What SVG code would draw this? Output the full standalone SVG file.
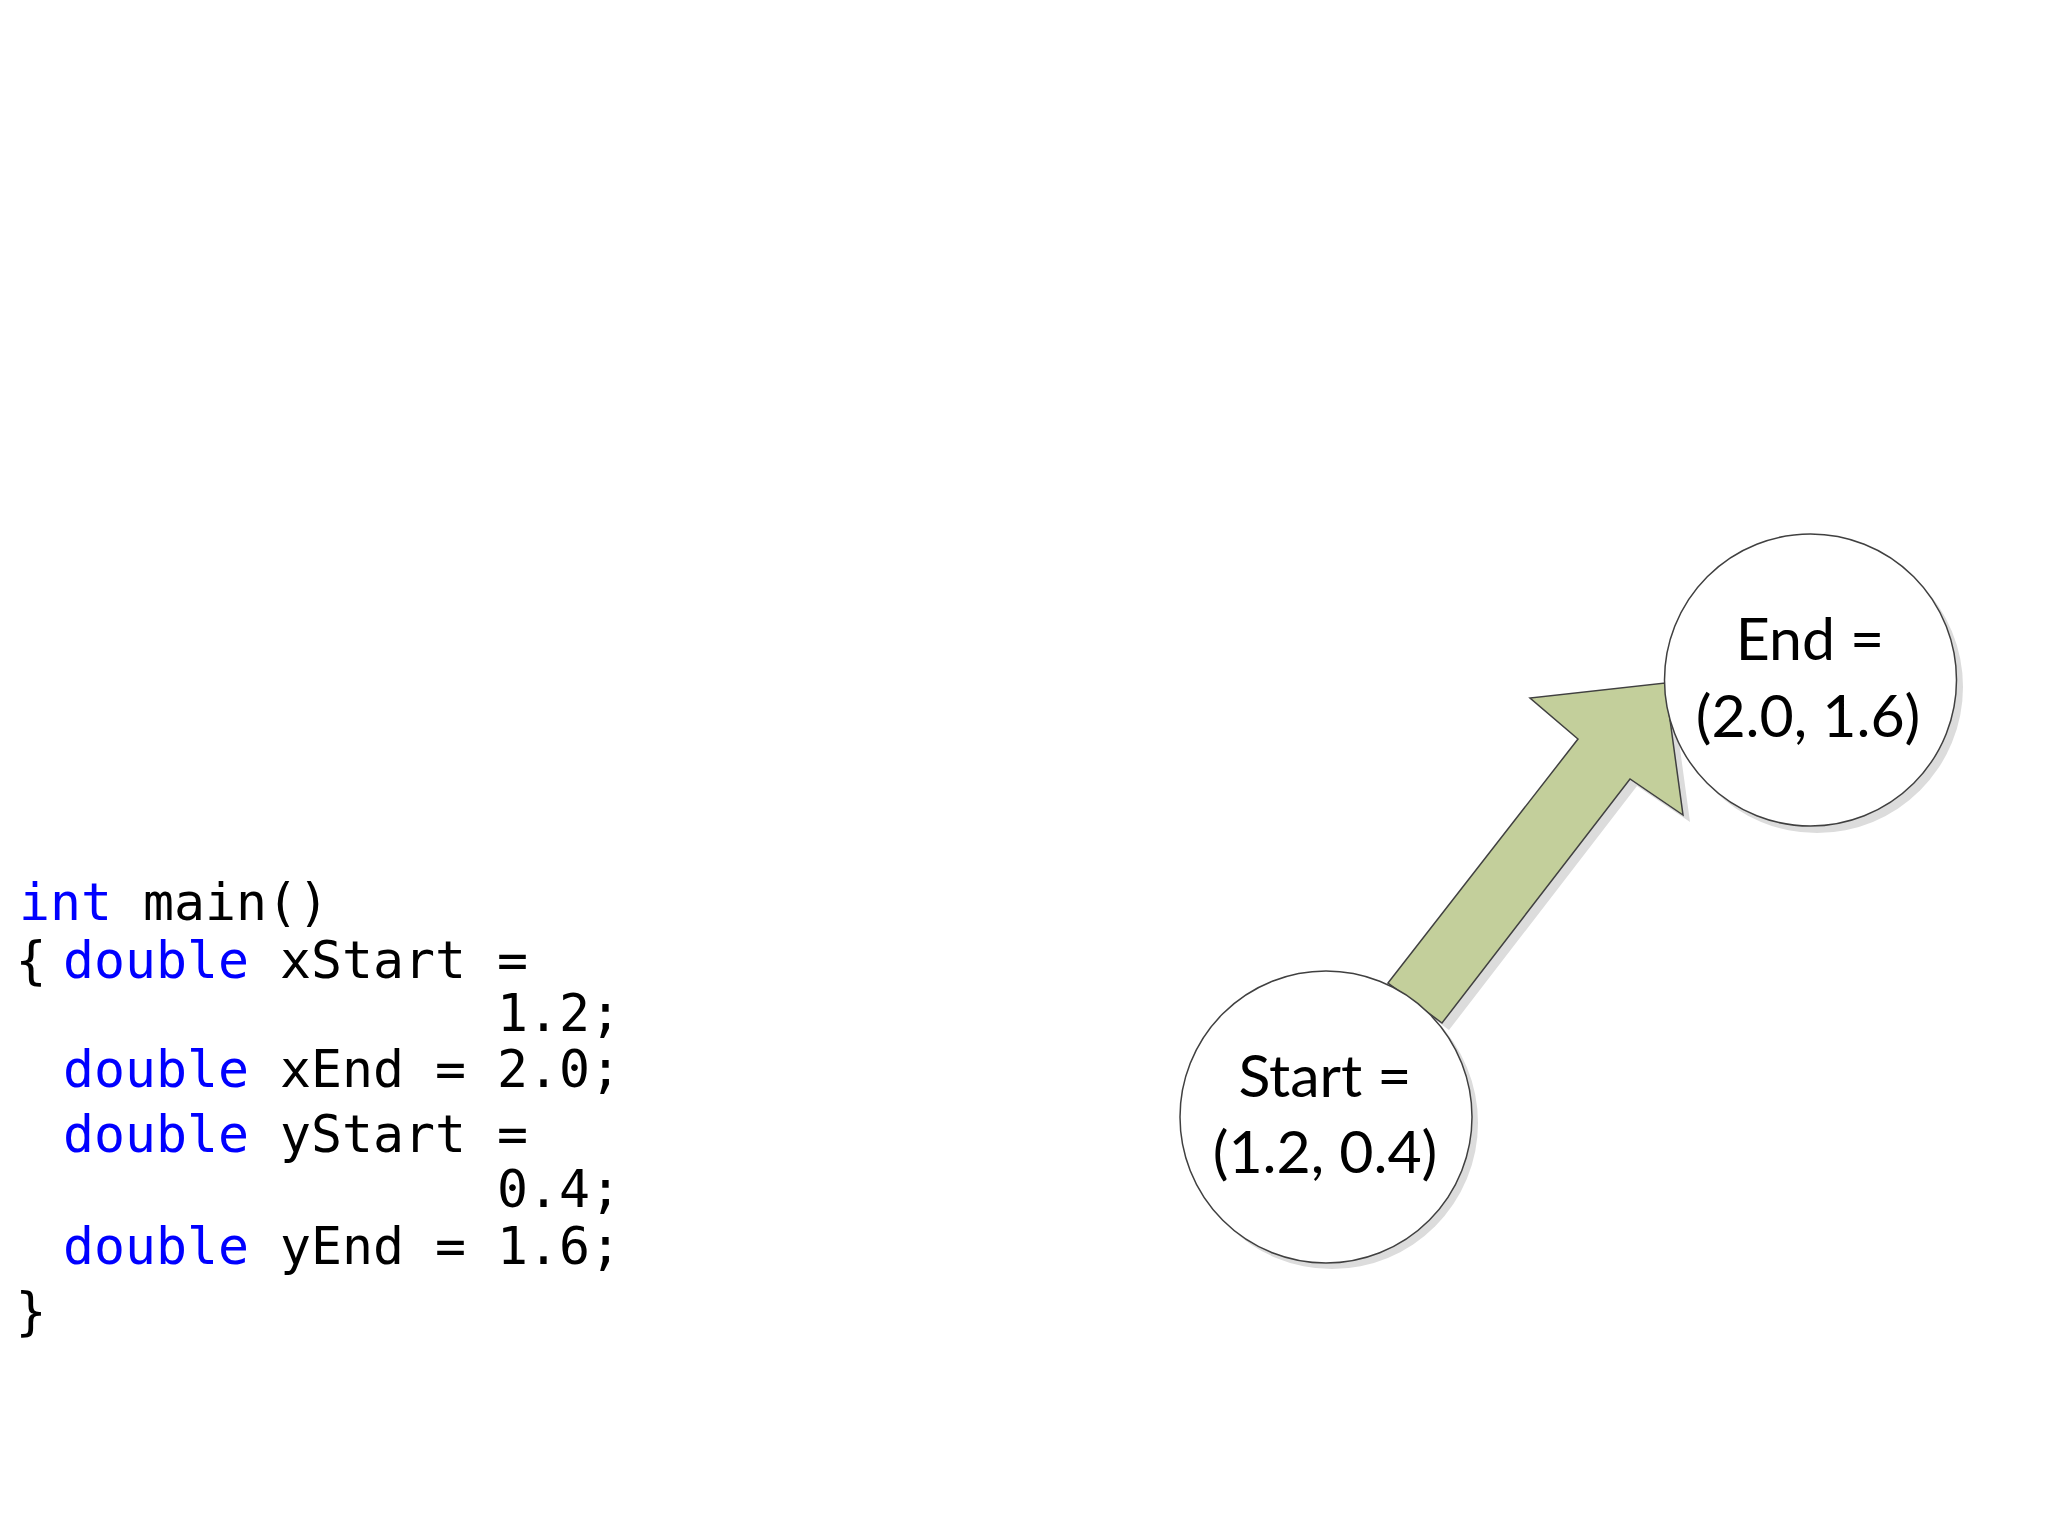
<svg xmlns="http://www.w3.org/2000/svg" width="2048" height="1536" viewBox="0 0 2048 1536">
<style>
.code{font-family:"DejaVu Sans Mono","Liberation Mono",monospace;font-size:51.5px;fill:#000}
.kw{fill:#0000FF}
.lbl{font-family:Lato,"Open Sans",sans-serif;font-size:59px;fill:#000;text-anchor:middle}
.node{fill:#fff;stroke:#404040;stroke-width:1.5}
.shadow{fill:#dcdcdc}
</style>
<rect width="2048" height="1536" fill="#fff"/>
<g id="code">
<text class="code" x="19" y="920"><tspan class="kw">int</tspan> main()</text>
<text class="code" x="15.5" y="978">{</text>
<text class="code" x="63" y="978"><tspan class="kw">double</tspan> xStart =</text>
<text class="code" x="497" y="1031">1.2;</text>
<text class="code" x="63" y="1087"><tspan class="kw">double</tspan> xEnd = 2.0;</text>
<text class="code" x="63" y="1152"><tspan class="kw">double</tspan> yStart =</text>
<text class="code" x="497" y="1207">0.4;</text>
<text class="code" x="63" y="1264"><tspan class="kw">double</tspan> yEnd = 1.6;</text>
<text class="code" x="15.5" y="1329">}</text>
</g>
<g id="connectors">
<polygon class="shadow" points="1395,990 1585,746 1537,705 1672,690 1690,822 1637,786 1449,1030"/>
<polygon points="1388,983 1578,739 1530,698 1665,683 1683,815 1630,779 1442,1023" fill="#C3CF9B" stroke="#404040" stroke-width="1.5" stroke-linejoin="miter"/>
</g>
<g id="node-start">
<circle class="shadow" cx="1332" cy="1123" r="146"/>
<circle class="node" cx="1326" cy="1117" r="146"/>
<text class="lbl" x="1325" y="1097">Start =</text>
<text class="lbl" x="1325" y="1173">(1.2, 0.4)</text>
</g>
<g id="node-end">
<circle class="shadow" cx="1817" cy="687" r="146"/>
<circle class="node" cx="1810.5" cy="680" r="146"/>
<text class="lbl" x="1810" y="660">End =</text>
<text class="lbl" x="1808" y="737">(2.0, 1.6)</text>
</g>
</svg>
